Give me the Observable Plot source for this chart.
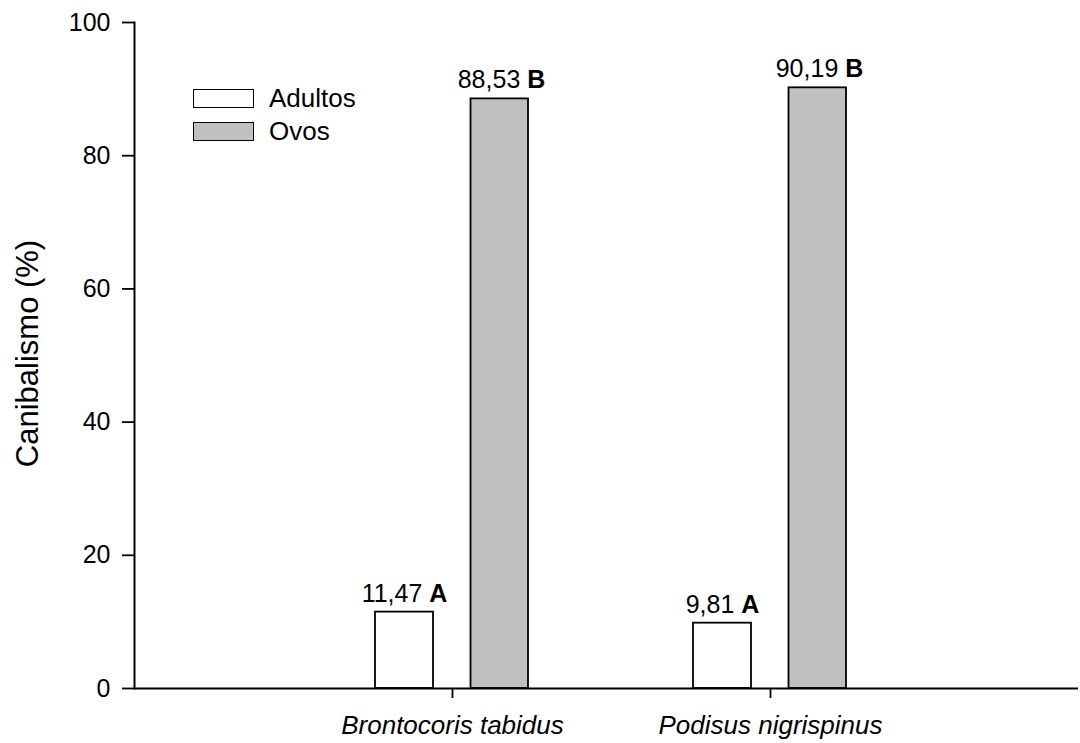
<!DOCTYPE html>
<html>
<head>
<meta charset="utf-8">
<script src="https://cdn.jsdelivr.net/npm/d3@7"></script>
<script src="https://cdn.jsdelivr.net/npm/@observablehq/plot@0.6"></script>
<style>
  html, body { margin: 0; padding: 0; background: white; }
  #wrap { position: relative; width: 1080px; height: 743px; font-family: "Liberation Sans", Arial, sans-serif; }
  #legend { position: absolute; left: 193px; top: 89px; }
  .row { position: absolute; left: 0; height: 19px; white-space: nowrap; }
  .sw { position: absolute; left: 0; top: 0; width: 61px; height: 19px; box-sizing: border-box; border: 1.8px solid black; }
  .lbl { position: absolute; left: 76px; top: 0; font-size: 26px; line-height: 19px; color: black; }
</style>
</head>
<body>
<div id="wrap"></div>
<script>
const species = ["Brontocoris tabidus", "Podisus nigrispinus"];
const groups = ["Adultos", "Ovos"];
const adultos = [11.47, 9.81];
const ovos = [88.53, 90.19];
const adultosLetters = ["A", "A"];
const ovosLetters = ["B", "B"];
const yTicks = [0, 20, 40, 60, 80, 100];
const yLabel = "Canibalismo (%)";
const groupFills = ["white", "#c0c0c0"];

const fmt = v => v.toFixed(2).replace(".", ",");
const adultosData = species.map((s, i) => ({species: s, value: adultos[i], letter: adultosLetters[i]}));
const ovosData = species.map((s, i) => ({species: s, value: ovos[i], letter: ovosLetters[i]}));

const chart = Plot.plot({
  width: 1080,
  height: 743,
  marginLeft: 134,
  marginRight: 2,
  marginTop: 22,
  marginBottom: 55,
  style: {fontFamily: "'Liberation Sans', Arial, sans-serif", color: "black", background: "white"},
  x: {domain: species, paddingInner: 0, paddingOuter: 0.484, align: 0.516, label: null},
  y: {domain: [0, 100], label: null},
  marks: [
    Plot.barY(adultosData, {x: "species", y1: 0, y2: "value", insetLeft: 82, insetRight: 178, fill: groupFills[0], stroke: "black", strokeWidth: 1.8}),
    Plot.barY(ovosData, {x: "species", y1: 0, y2: "value", insetLeft: 177.5, insetRight: 83, fill: groupFills[1], stroke: "black", strokeWidth: 1.8}),
    Plot.text(adultosData, {x: "species", y: "value", text: d => fmt(d.value) + " " + d.letter, dx: -48, dy: -10, lineAnchor: "bottom", fontSize: 25}),
    Plot.text(ovosData, {x: "species", y: "value", text: d => fmt(d.value) + " " + d.letter, dx: 49, dy: -10.5, lineAnchor: "bottom", fontSize: 25}),
    Plot.ruleY([0], {strokeWidth: 2}),
    Plot.frame({anchor: "left", strokeWidth: 2}),
    Plot.axisY({ticks: yTicks, tickSize: 12, tickPadding: 12, fontSize: 25, strokeWidth: 1.8, label: null}),
    Plot.axisX({tickSize: 10, tickPadding: 17, fontSize: 26, fontStyle: "italic", strokeWidth: 1.8, label: null}),
    Plot.text([yLabel], {text: d => d, frameAnchor: "left", textAnchor: "middle", rotate: -90, dx: -97, dy: -2, lineAnchor: "bottom", fontSize: 31})
  ]
});

// bold significance letter in value labels
d3.select(chart).selectAll("text").each(function() {
  if (this.querySelector("tspan")) return;
  const t = this.textContent;
  const m = /^(\d+,\d+) ([A-Z])$/.exec(t);
  if (!m) return;
  const sel = d3.select(this);
  sel.text(null).style("white-space", "pre");
  sel.append("tspan").text(m[1] + " ");
  sel.append("tspan").attr("font-weight", "bold").text(m[2]);
});

const wrap = document.getElementById("wrap");
wrap.appendChild(chart);

const legend = document.createElement("div");
legend.id = "legend";
groups.forEach((g, i) => {
  const row = document.createElement("div");
  row.className = "row";
  row.style.top = (i * 33.3) + "px";
  const sw = document.createElement("div");
  sw.className = "sw";
  sw.style.background = groupFills[i];
  const lb = document.createElement("div");
  lb.className = "lbl";
  lb.textContent = g;
  row.appendChild(sw);
  row.appendChild(lb);
  legend.appendChild(row);
});
wrap.appendChild(legend);
</script>
</body>
</html>
